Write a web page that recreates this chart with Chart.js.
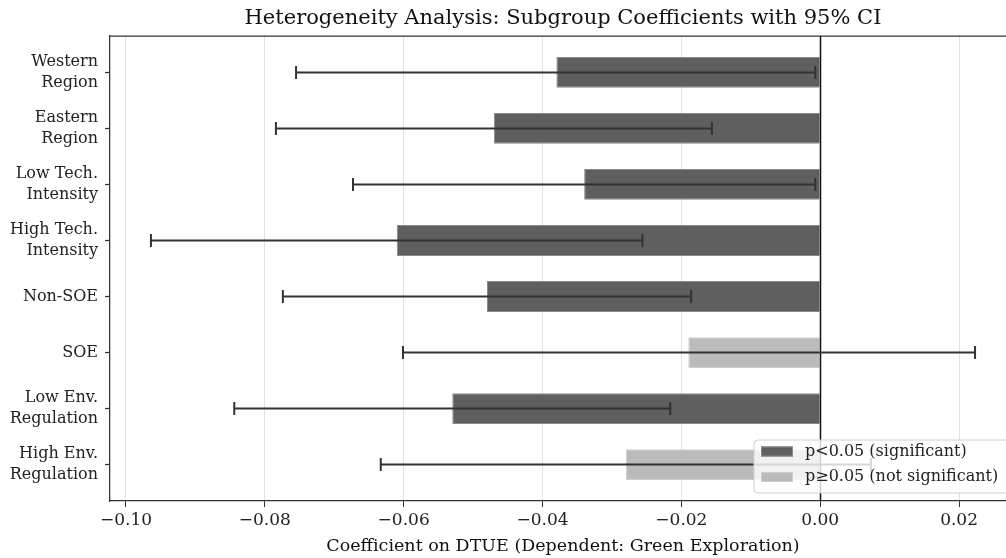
<!DOCTYPE html>
<html>
<head>
<meta charset="utf-8">
<script src="https://cdn.jsdelivr.net/npm/chart.js"></script>
<style>
	html, body { margin: 0; padding: 0; background: #fff; overflow: hidden; }
	#wrap { width: 1006px; height: 558px; overflow: hidden; }
	#wrap div { width: 1126px; height: 558px; }
</style>
</head>
<body>
<div id="wrap"><div><canvas id="coef-chart"></canvas></div></div>
<script>
// subgroup estimates
var categories = ["Western\nRegion", "Eastern\nRegion", "Low Tech.\nIntensity", "High Tech.\nIntensity",
	"Non-SOE", "SOE", "Low Env.\nRegulation", "High Env.\nRegulation"];
var coef = [-0.038, -0.047, -0.034, -0.061, -0.048, -0.019, -0.053, -0.028];
var ciLow = [-0.0755, -0.0784, -0.0673, -0.0964, -0.0774, -0.0601, -0.0844, -0.0633];
var ciHigh = [-0.0007, -0.0156, -0.0007, -0.0256, -0.0186, 0.0223, -0.0216, 0.0073];
var significant = [true, true, true, true, true, false, true, false];
var xTicks = [-0.10, -0.08, -0.06, -0.04, -0.02, 0.00, 0.02];

var FONT = "'DejaVu Serif', 'Liberation Serif', serif";
var DARK = "#5f5f5f";
var LIGHT = "#bbbbbb";

function points(flag) {
	var out = [];
	coef.forEach(function (c, i) {
		if (significant[i] === flag) out.push({ x: c, y: i });
	});
	return out;
}

function fmt(v) {
	if (Math.abs(v) < 1e-9) return "0.00";
	return (v < 0 ? "\u2212" : "") + Math.abs(v).toFixed(2);
}

// error bars, zero line, top spine and the in-axes legend
var overlay = {
	id: "overlay",
	afterDraw: function (chart) {
		var ctx = chart.ctx;
		var xs = chart.scales.x, ys = chart.scales.y;
		var area = chart.chartArea;
		ctx.save();

		// top spine
		ctx.strokeStyle = "#333";
		ctx.lineWidth = 1.25;
		ctx.beginPath();
		ctx.moveTo(area.left, area.top);
		ctx.lineTo(area.right, area.top);
		ctx.stroke();

		// zero line
		var x0 = Math.round(xs.getPixelForValue(0)) + 0.5;
		ctx.strokeStyle = "#111";
		ctx.lineWidth = 1.5;
		ctx.beginPath();
		ctx.moveTo(x0, area.top);
		ctx.lineTo(x0, area.bottom);
		ctx.stroke();

		// CI whiskers
		ctx.strokeStyle = "#333";
		ctx.lineWidth = 2;
		for (var i = 0; i < coef.length; i++) {
			var y = ys.getPixelForValue(i);
			var a = xs.getPixelForValue(ciLow[i]);
			var b = xs.getPixelForValue(ciHigh[i]);
			ctx.beginPath();
			ctx.moveTo(a, y); ctx.lineTo(b, y);
			ctx.moveTo(a, y - 6.5); ctx.lineTo(a, y + 6.5);
			ctx.moveTo(b, y - 6.5); ctx.lineTo(b, y + 6.5);
			ctx.stroke();
		}

		// legend box, lower right
		var lx = 754, ly = 440, lw = 255, lh = 53, r = 4;
		ctx.beginPath();
		ctx.moveTo(lx + r, ly);
		ctx.arcTo(lx + lw, ly, lx + lw, ly + lh, r);
		ctx.arcTo(lx + lw, ly + lh, lx, ly + lh, r);
		ctx.arcTo(lx, ly + lh, lx, ly, r);
		ctx.arcTo(lx, ly, lx + lw, ly, r);
		ctx.closePath();
		ctx.fillStyle = "rgba(255,255,255,0.8)";
		ctx.fill();
		ctx.strokeStyle = "#d0d0d0";
		ctx.lineWidth = 1;
		ctx.stroke();

		ctx.font = "16px " + FONT;
		ctx.textBaseline = "middle";
		chart.data.datasets.forEach(function (ds, k) {
			var cy = 451.5 + k * 25.5;
			ctx.fillStyle = ds.backgroundColor;
			ctx.fillRect(761, cy - 5, 32, 10);
			ctx.strokeStyle = ds.borderColor;
			ctx.strokeRect(761.5, cy - 4.5, 31, 9);
			ctx.fillStyle = "#222";
			ctx.fillText(ds.label, 805, cy);
		});
		ctx.restore();
	}
};

var ctx = document.getElementById("coef-chart").getContext("2d");
new Chart(ctx, {
	type: "bar",
	data: {
		datasets: [
			{
				label: "p<0.05 (significant)",
				data: points(true),
				backgroundColor: DARK,
				borderColor: "#8a8a8a",
				borderWidth: 1,
			},
			{
				label: "p\u22650.05 (not significant)",
				data: points(false),
				backgroundColor: LIGHT,
				borderColor: "#cfcfcf",
				borderWidth: 1,
			},
		],
	},
	options: {
		indexAxis: "y",
		responsive: true,
		maintainAspectRatio: false,
		animation: false,
		grouped: false,
		categoryPercentage: 1,
		barPercentage: 0.55,
		layout: { padding: { left: 0, right: 110, top: 0, bottom: 0 } },
		plugins: {
			legend: { display: false },
			tooltip: { enabled: false },
			title: {
				display: true,
				fullSize: false,
				text: "Heterogeneity Analysis: Subgroup Coefficients with 95% CI",
				color: "#111",
				font: { family: FONT, size: 21, weight: "normal", lineHeight: 1.2 },
				padding: { top: 6, bottom: 4.8 },
			},
		},
		scales: {
			x: {
				type: "linear",
				min: -0.1023,
				max: 0.0282,
				z: 1,
				afterFit: function (s) { s.height = 57; },
				afterBuildTicks: function (s) {
					s.ticks = xTicks.map(function (v) { return { value: v }; });
				},
				ticks: {
					callback: function (v) { return fmt(v); },
					color: "#222",
					font: { family: FONT, size: 17 },
					padding: 3,
					maxRotation: 0,
				},
				grid: {
					color: "rgba(180,180,180,0.4)",
					lineWidth: 1,
					tickColor: "#333",
					tickLength: 6,
				},
				border: { color: "#333", width: 1.25 },
				title: {
					display: true,
					text: "Coefficient on DTUE (Dependent: Green Exploration)",
					color: "#111",
					font: { family: FONT, size: 17.5, lineHeight: 1.2 },
					padding: { top: 0, bottom: 1.5 },
				},
			},
			y: {
				type: "linear",
				offset: false,
				min: -0.65,
				max: 7.65,
				reverse: true,
				afterFit: function (s) { s.width = 110; },
				afterBuildTicks: function (s) {
					s.ticks = categories.map(function (c, i) { return { value: i }; });
				},
				ticks: {
					autoSkip: false,
					callback: function (v) { return categories[v].split("\n"); },
					color: "#222",
					font: { family: FONT, size: 16, lineHeight: 1.32 },
					padding: 7,
				},
				grid: {
					offset: false,
					drawOnChartArea: false,
					tickColor: "#333",
					tickLength: 5,
					tickWidth: 1.25,
				},
				border: { color: "#333", width: 1.25 },
			},
		},
	},
	plugins: [overlay],
});
</script>
</body>
</html>
